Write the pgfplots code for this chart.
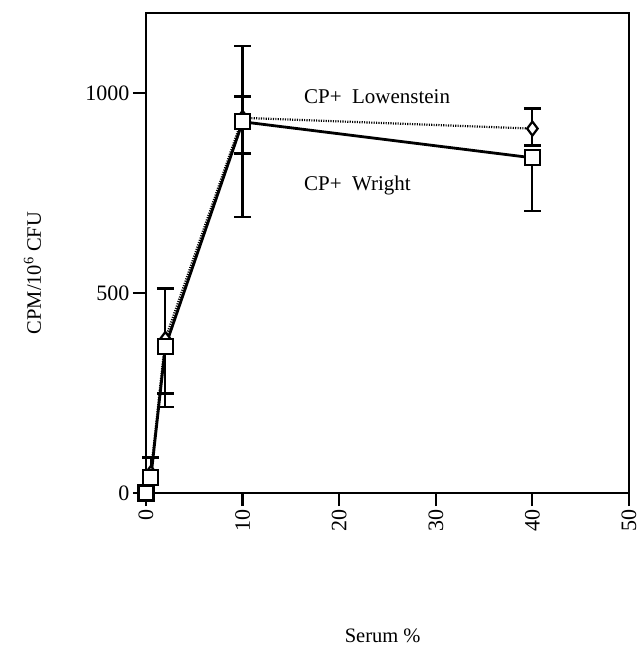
\documentclass[border=0pt]{standalone}
\usepackage{pgfplots}
\pgfplotsset{compat=1.18}
\usepackage{pgfplotstable}
\usepackage{fontspec}
\setmainfont{Liberation Serif}
\pgfplotstableread{
x y ep em
0 0 10 0
0.5 50 40 0
2 385 127 137
10 938 53 90
40 911 50 43
}\lowen
\pgfplotstableread{
x y ep em
0 0 0 0
0.5 38 0 0
2 366 0 150
10 928 189 238
40 838 0 133
}\wright
\begin{document}
\begin{tikzpicture}
\path[use as bounding box] (-146pt,-153pt) rectangle (495pt,493pt);
\begin{axis}[
  scale only axis, width=483pt, height=480pt,
  xmin=0, xmax=50, ymin=0, ymax=1200,
  xtick={0,10,20,30,40,50}, ytick={0,500,1000},
  tick align=outside, xtick pos=bottom, ytick pos=left,
  major tick length=13pt,
  every tick/.style={black, line width=2.2pt},
  axis line style={line width=2.2pt},
  /pgf/number format/assume math mode=true,
  /pgf/number format/1000 sep={},
  tick label style={font=\fontsize{22}{26}\selectfont},
  xticklabel style={rotate=90, anchor=east},
  xlabel={Serum \%},
  ylabel={CPM/10\textsuperscript{6} CFU},
  label style={font=\fontsize{20.5}{24}\selectfont},
  xlabel style={at={(axis description cs:0.49,-0.298)}, anchor=center},
  ylabel style={at={(axis description cs:-0.235,0.458)}, anchor=center},
  clip=false,
]
\addplot[black, line width=2.2pt, dash pattern=on 1.1pt off 1.3pt,
  mark=diamond*, mark size=7pt, mark options={solid, fill=white, line width=2.2pt},
  error bars/.cd, y dir=both, y explicit,
  error bar style={line width=2.2pt, solid},
  error mark options={line width=3pt, mark size=8.5pt, solid, rotate=90}]
  table[x=x, y=y, y error plus=ep, y error minus=em] {\lowen};
\addplot[black, line width=2.8pt,
  mark=square*, mark size=7.5pt, mark options={solid, fill=white, line width=2.2pt},
  error bars/.cd, y dir=both, y explicit,
  error bar style={line width=2.2pt, solid},
  error mark options={line width=2.2pt, mark size=8.5pt, solid, rotate=90}]
  table[x=x, y=y, y error plus=ep, y error minus=em] {\wright};
\node[anchor=west, font=\fontsize{21}{25}\selectfont] at (axis cs:16.0,990) {CP+\ \ Lowenstein};
\node[anchor=west, font=\fontsize{21}{25}\selectfont] at (axis cs:16.0,768) {CP+\ \ Wright};
\end{axis}
\end{tikzpicture}
\end{document}
